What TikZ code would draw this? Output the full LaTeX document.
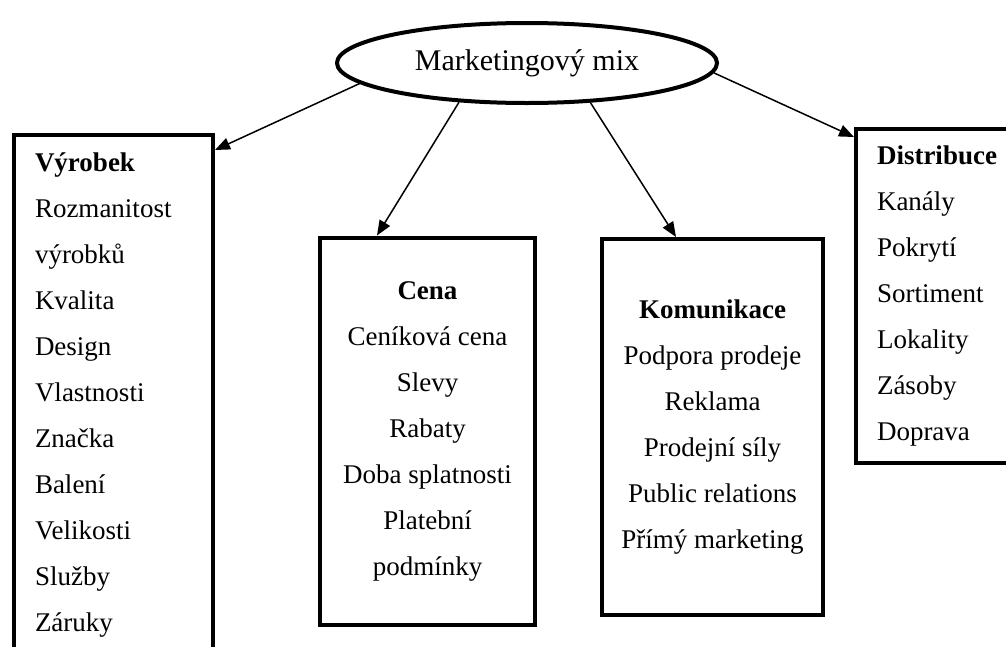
\documentclass[tikz,border=0pt]{standalone}
\usepackage{fontspec}
\setmainfont{Liberation Serif}
\usetikzlibrary{positioning, shapes.geometric, arrows.meta}

\begin{document}
\begin{tikzpicture}[x=1pt, y=-1pt, every node/.style={font=\fontsize{27}{46}\selectfont}, >={Triangle[length=15pt, width=12pt]},
  groupbox/.style={draw, rectangle, line width=4pt, inner ysep=0pt},
  leftbox/.style={groupbox, align=left, inner xsep=21pt},
  midbox/.style={groupbox, align=center}]
  \useasboundingbox (0,0) rectangle (1006,646);

  \node[draw, ellipse, line width=4pt, minimum width=380pt, minimum height=80pt, font=\fontsize{30}{36}\selectfont] (mix) at (527,63) {Marketingový mix};

  \node[leftbox, text width=157pt, minimum height=520pt] (vyrobek) at (113.5,395) {\textbf{Výrobek}\\ Rozmanitost\\ výrobků\\ Kvalita\\ Design\\ Vlastnosti\\ Značka\\ Balení\\ Velikosti\\ Služby\\ Záruky};
  \node[midbox, minimum width=215pt, minimum height=387pt] (cena) at (427.5,431) {\textbf{Cena}\\ Ceníková cena\\ Slevy\\ Rabaty\\ Doba splatnosti\\ Platební\\ podmínky};
  \node[midbox, minimum width=221pt, minimum height=376pt] (komunikace) at (712.5,427) {\textbf{Komunikace}\\ Podpora prodeje\\ Reklama\\ Prodejní síly\\ Public relations\\ Přímý marketing};
  \node[leftbox, text width=128pt, minimum height=334pt] (distribuce) at (941,296) {\textbf{Distribuce}\\ Kanály\\ Pokrytí\\ Sortiment\\ Lokality\\ Zásoby\\ Doprava};

  \draw[->, line width=1.5pt] (mix.187) -- ([yshift=-17pt]vyrobek.north east);
  \draw[->, line width=1.5pt] (mix.210) -- ([xshift=59pt]cena.north west);
  \draw[->, line width=1.5pt] (mix.328) -- ([xshift=76pt]komunikace.north west);
  \draw[->, line width=1.5pt] (mix.357) -- ([yshift=-10pt]distribuce.north west);
\end{tikzpicture}
\end{document}
